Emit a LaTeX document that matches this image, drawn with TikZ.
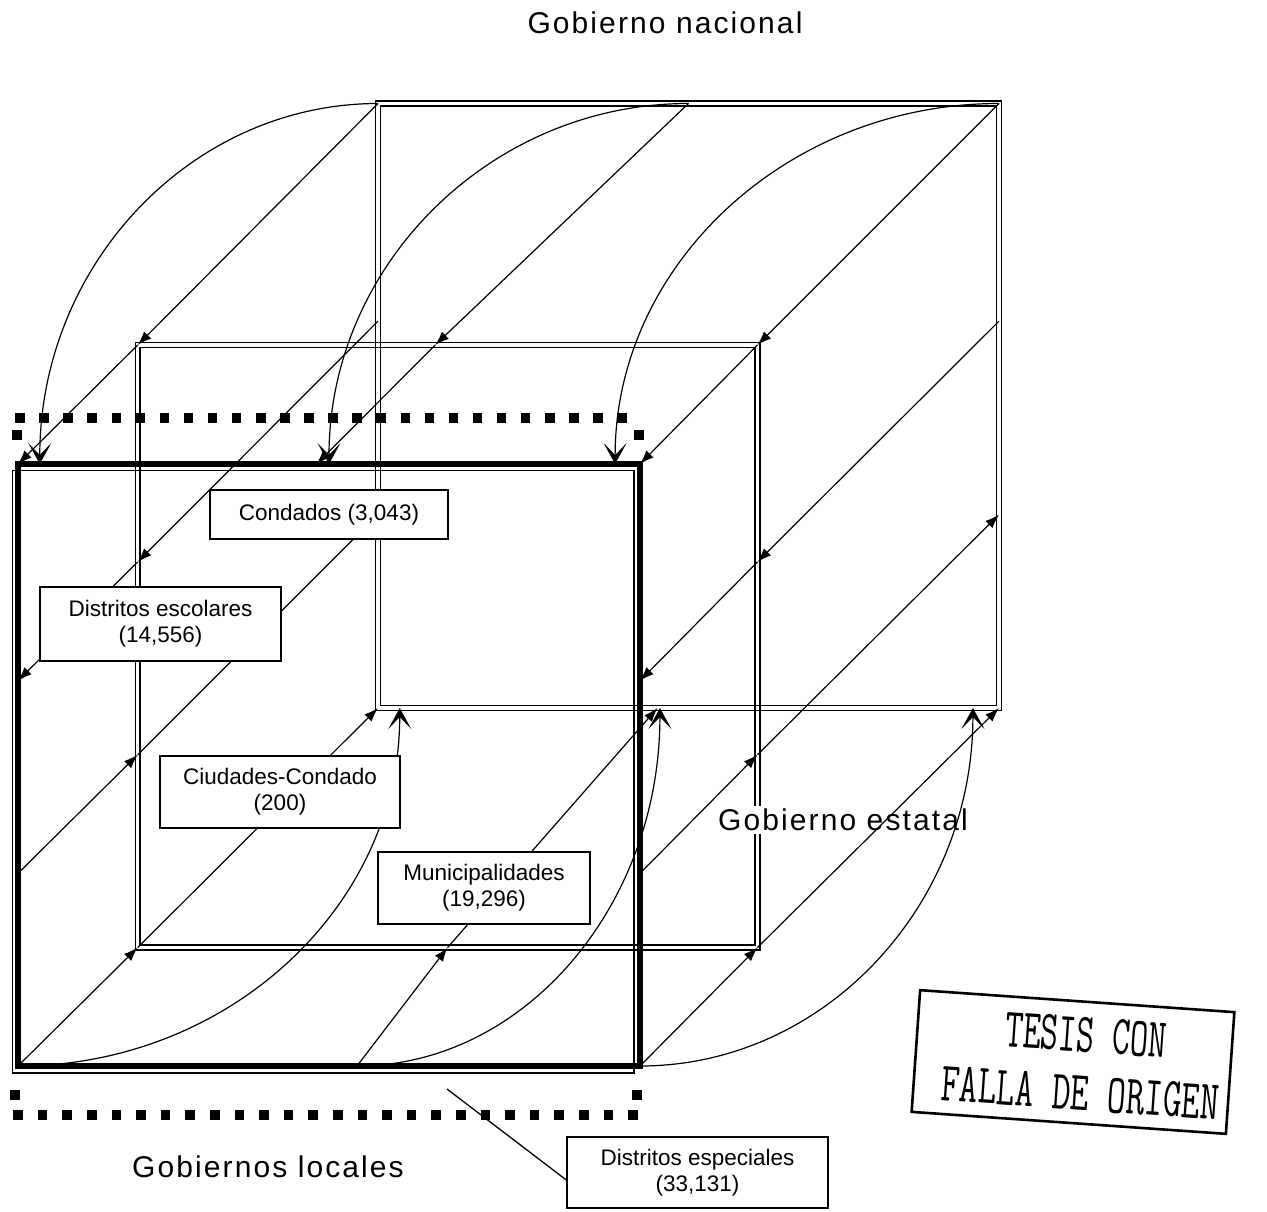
\documentclass[tikz,border=0pt]{standalone}
\usepackage{graphicx}
\usepackage{fontspec}
\setmainfont{Liberation Sans}
\newfontfamily\titlefont[LetterSpace=7]{Liberation Sans}
\usetikzlibrary{arrows.meta,calc}

\begin{document}
\begin{tikzpicture}[x=1pt,y=-1pt,
  every node/.style={inner sep=0pt, outer sep=0pt},
  govarea/.style={rectangle, draw=none},
  thinline/.style={line width=1.3pt},
  flecha/.style={line width=1.2pt, -{Latex[length=14pt,width=10pt]}},
  arco/.style={line width=1.2pt, -{Stealth[length=21pt,width=23pt,inset=12pt]}},
  dotrow/.style={line width=9.5pt, dash pattern=on 9.5pt off 14.58pt},
  dotrowb/.style={line width=9.5pt, dash pattern=on 9.5pt off 15.1pt},
  etiqueta/.style={draw, fill=white, line width=1.4pt, align=center,
    font=\fontsize{22.5}{26}\selectfont},
  titulo/.style={font=\titlefont\fontsize{30}{34}\selectfont},
  sellotexto/.style={font=\ttfamily\addfontfeature{FakeBold=2.5}\fontsize{36}{38}\selectfont},
]
\useasboundingbox (0,0) rectangle (1267,1211);

% the three levels of government
\node[govarea, minimum width=621pt, minimum height=604.5pt] (nat) at (688.5,405.75) {};
\node[govarea, minimum width=619.8pt, minimum height=602.5pt] (est) at (447.6,646.25) {};
\node[govarea, minimum width=622pt, minimum height=602pt] (loc) at (329,765) {};

% square-dotted frame round the local level
\draw[dotrow] (15.25,418) -- (627,418);
\draw[dotrow] (17,430.25) -- (17,439.75);
\draw[dotrow] (639,430.25) -- (639,439.75);
\draw[dotrow] (15,1090.25) -- (15,1099.75);
\draw[dotrow] (637,1090.25) -- (637,1099.75);
\draw[dotrowb] (13.25,1115) -- (638,1115);

% double borders for national and state levels
\foreach \b in {nat,est} {
  \draw[thinline] ($(\b.north west)+(-2.4,-2.4)$) rectangle ($(\b.south east)+(2.4,2.4)$);
  \draw[thinline] ($(\b.north west)+(2.4,2.4)$) rectangle ($(\b.south east)+(-2.4,-2.4)$);
}
% heavy border for the local level
\draw[line width=5.5pt] (loc.north west) rectangle (loc.south east);
\draw[thinline] ($(loc.north west)+(-5.5,6.5)$) rectangle ($(loc.south east)+(-6,7)$);

\node[titulo, fill=white, inner sep=3pt] (tEst) at (843,820) {Gobierno estatal};

% points on the box edges
\coordinate (eT) at ($(est.north west)!0.48!(est.north east)$);
\coordinate (lT) at ($(loc.north west)!0.48!(loc.north east)$);
\coordinate (nL1) at ($(nat.north west)!0.36!(nat.south west)$);
\coordinate (eL1) at ($(est.north west)!0.36!(est.south west)$);
\coordinate (lL1) at ($(loc.north west)!0.36!(loc.south west)$);
\coordinate (nR1) at ($(nat.north east)!0.36!(nat.south east)$);
\coordinate (eR1) at ($(est.north east)!0.36!(est.south east)$);
\coordinate (lR1) at ($(loc.north east)!0.36!(loc.south east)$);
\coordinate (nL2) at ($(nat.north west)!0.68!(nat.south west)$);
\coordinate (eL2) at ($(est.north west)!0.68!(est.south west)$);
\coordinate (lL2) at ($(loc.north west)!0.68!(loc.south west)$);
\coordinate (nR2) at ($(nat.north east)!0.68!(nat.south east)$);
\coordinate (eR2) at ($(est.north east)!0.68!(est.south east)$);
\coordinate (lR2) at ($(loc.north east)!0.68!(loc.south east)$);
\coordinate (lB) at ($(loc.south west)!0.545!(loc.south east)$);
\coordinate (eB) at ($(est.south west)!0.5!(est.south east)$);
\coordinate (nB) at ($(nat.south west)!0.45!(nat.south east)$);
\coordinate (a1) at ($(loc.north west)!0.035!(loc.north east)$);
\coordinate (a3) at ($(loc.north west)!0.96!(loc.north east)$);
\coordinate (a4) at ($(nat.south west)!0.035!(nat.south east)$);
\coordinate (a5) at ($(nat.south west)!0.454!(nat.south east)$);
\coordinate (a6) at ($(nat.south west)!0.958!(nat.south east)$);

% downward relations
\draw[flecha] (nat.north west) -- (est.north west);
\draw[flecha] (est.north west) -- (loc.north west);
\draw[flecha] (nat.north) -- (eT);
\draw[flecha] (eT) -- (lT);
\draw[flecha] (nat.north east) -- (est.north east);
\draw[flecha] (est.north east) -- (loc.north east);
\draw[flecha] (nL1) -- (eL1);
\draw[flecha] (eL1) -- (lL1);
\draw[flecha] (nR1) -- (eR1);
\draw[flecha] (eR1) -- (lR1);

% upward relations
\draw[flecha] (loc.south west) -- (est.south west);
\draw[flecha] (est.south west) -- (nat.south west);
\draw[flecha] (lB) -- (eB);
\draw[flecha] (eB) -- (nB);
\draw[flecha] (loc.south east) -- (est.south east);
\draw[flecha] (est.south east) -- (nat.south east);
\draw[flecha] (lL2) -- (eL2);
\draw[flecha] (eL2) -- (nL2);
\draw[flecha] (lR2) -- (eR2);
\draw[flecha] (eR2) -- (nR2);

% direct national-local relations
\draw[arco] (nat.north west) .. controls +(-187,0) and +(0,-199) .. (a1);
\draw[arco] (nat.north) .. controls +(-198,0) and +(0,-199) .. (loc.north);
\draw[arco] (nat.north east) .. controls +(-212,0) and +(0,-199) .. (a3);
\draw[arco] (loc.south west) .. controls +(211,0) and +(0,198) .. (a4);
\draw[arco] (lB) .. controls +(167,0) and +(0,198) .. (a5);
\draw[arco] (loc.south east) .. controls +(184,0) and +(0,198) .. (a6);

% kinds of local government
\node[etiqueta, minimum width=238pt, minimum height=49pt] (cond) at (329,514.5) {Condados (3,043)};
\node[etiqueta, minimum width=241pt, minimum height=74pt] (desc) at (160.5,624) {Distritos escolares\\(14,556)};
\node[etiqueta, minimum width=240pt, minimum height=72pt] (ciud) at (280,792) {Ciudades-Condado\\(200)};
\node[etiqueta, minimum width=212pt, minimum height=72pt] (muni) at (484,888) {Municipalidades\\(19,296)};
\node[etiqueta, minimum width=261pt, minimum height=71pt] (desp) at (697.5,1172.5) {Distritos especiales\\(33,131)};
\coordinate (guia) at (447,1089);
\draw[thinline] (guia) -- ($(desp.west)+(0,8)$);

\node[titulo] (tNac) at (665,23) {Gobierno nacional};
\node[titulo] (tLoc) at (268,1167) {Gobiernos locales};

% stamp
\node[draw, line width=2.6pt, rotate=-4, minimum width=315pt, minimum height=122pt] (sello) at (1073,1062) {};
\node[sellotexto, rotate=-4] (sello1) at (1086,1035) {\scalebox{0.97}[1.55]{TESIS CON}};
\node[sellotexto, rotate=-4] (sello2) at (1080,1093) {\scalebox{1}[1.55]{FALLA DE ORIGEN}};
\end{tikzpicture}
\end{document}
